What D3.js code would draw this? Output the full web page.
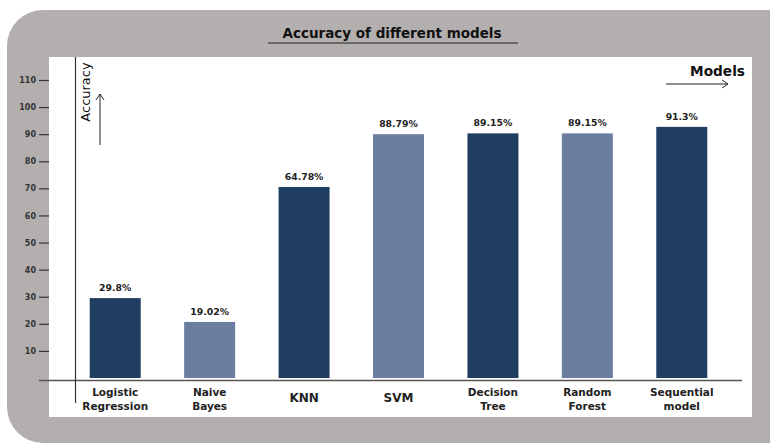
<!DOCTYPE html>
<html>
<head>
<meta charset="utf-8">
<script src="https://cdn.jsdelivr.net/npm/d3@7"></script>
<style>
  body { margin: 0; background: #fff; }
  svg { display: block; font-family: "DejaVu Sans", sans-serif; }
</style>
</head>
<body>
<div id="container"></div>
<script>
const models = ['Logistic\nRegression', 'Naive\nBayes', 'KNN', 'SVM', 'Decision\nTree', 'Random\nForest', 'Sequential\nmodel'];
// bar heights as drawn in the picture
const heights = [29.5, 20.7, 70.5, 90.0, 90.3, 90.3, 92.7];
// the labels printed above the bars
const valueLabels = ['29.8%', '19.02%', '64.78%', '88.79%', '89.15%', '89.15%', '91.3%'];
const barColors = ['#1f3e60', '#6b7ea2', '#1f3e60', '#6b7ea2', '#1f3e60', '#6b7ea2', '#1f3e60'];
const yTicks = [10, 20, 30, 40, 50, 60, 70, 80, 90, 100, 110];

const width = 770, height = 445;

const svg = d3.select('#container').append('svg')
    .attr('width', width)
    .attr('height', height);

// grey card + white panel
svg.append('rect')
    .attr('x', 7).attr('y', 10)
    .attr('width', 800).attr('height', 433)
    .attr('rx', 36).attr('ry', 36)
    .style('fill', '#b3afae');
svg.append('rect')
    .attr('x', 49).attr('y', 57)
    .attr('width', 703).attr('height', 360)
    .style('fill', '#fff');

const x = d3.scaleBand().domain(models).range([68, 729]).paddingInner(0.46).paddingOuter(0.23);
const y = d3.scaleLinear().domain([0, 110]).range([378, 80]);

// title
svg.append('text')
    .attr('x', 392).attr('y', 38)
    .attr('text-anchor', 'middle')
    .style('font-weight', 'bold')
    .style('font-size', '13.5px')
    .style('fill', '#111')
    .text('Accuracy of different models');
svg.append('line')
    .attr('x1', 268).attr('x2', 518)
    .attr('y1', 43).attr('y2', 43)
    .style('stroke', '#222').style('stroke-width', 1);

// y axis (ticks sit on the grey border)
const yAxis = svg.append('g')
    .attr('transform', 'translate(49 0)')
    .call(d3.axisLeft(y).tickValues(yTicks).tickSize(10).tickPadding(3));
yAxis.select('.domain').remove();
yAxis.selectAll('line').style('stroke', '#333').style('stroke-width', 1.2);
yAxis.selectAll('text')
    .style('font-size', '8px')
    .style('font-weight', 'bold')
    .style('fill', '#333')
    .style('font-family', '"DejaVu Sans", sans-serif');

// bars
svg.append('g').selectAll('rect').data(models).enter().append('rect')
    .attr('x', (d) => x(d))
    .attr('y', (d, i) => y(heights[i]))
    .attr('width', x.bandwidth())
    .attr('height', (d, i) => y(0) - y(heights[i]))
    .style('fill', (d, i) => barColors[i]);

// value labels
svg.append('g').selectAll('text').data(models).enter().append('text')
    .attr('x', (d) => x(d) + x.bandwidth() / 2)
    .attr('y', (d, i) => y(heights[i]) - 7)
    .attr('text-anchor', 'middle')
    .style('font-size', '9.3px')
    .style('font-weight', 'bold')
    .style('fill', '#222')
    .text((d, i) => valueLabels[i]);

// baseline and vertical line
svg.append('line')
    .attr('x1', 39).attr('x2', 742)
    .attr('y1', 380.5).attr('y2', 380.5)
    .style('stroke', '#555').style('stroke-width', 1.5);
svg.append('line')
    .attr('x1', 75.5).attr('x2', 75.5)
    .attr('y1', 57).attr('y2', 403)
    .style('stroke', '#333').style('stroke-width', 1.2);

// category labels
const catLabels = svg.append('g').selectAll('text').data(models).enter().append('text')
    .attr('text-anchor', 'middle')
    .style('font-size', '10.5px')
    .style('font-weight', 'bold')
    .style('fill', '#222');
catLabels.each(function (d) {
    const lines = d.split('\n');
    const cx = x(d) + x.bandwidth() / 2;
    const t = d3.select(this);
    if (lines.length === 1) {
        t.append('tspan').attr('x', cx).attr('y', 402).style('font-size', '12px').text(lines[0]);
    } else {
        lines.forEach((l, k) => {
            t.append('tspan').attr('x', cx).attr('y', 396 + k * 14).text(l);
        });
    }
});

// axis titles and arrows
svg.append('text')
    .attr('transform', 'translate(90 92) rotate(-90)')
    .attr('text-anchor', 'middle')
    .style('font-size', '13px')
    .style('fill', '#111')
    .text('Accuracy');
svg.append('text')
    .attr('x', 745).attr('y', 76)
    .attr('text-anchor', 'end')
    .style('font-size', '13.7px')
    .style('font-weight', 'bold')
    .style('fill', '#111')
    .text('Models');

const arrow = d3.path();
arrow.moveTo(100, 145); arrow.lineTo(100, 94);
arrow.moveTo(96, 100); arrow.lineTo(100, 94); arrow.lineTo(104, 100);
arrow.moveTo(666, 84); arrow.lineTo(728, 84);
arrow.moveTo(722, 80); arrow.lineTo(728, 84); arrow.lineTo(722, 88);
svg.append('path')
    .attr('d', arrow.toString())
    .style('fill', 'none')
    .style('stroke', '#222')
    .style('stroke-width', 1);
</script>
</body>
</html>
